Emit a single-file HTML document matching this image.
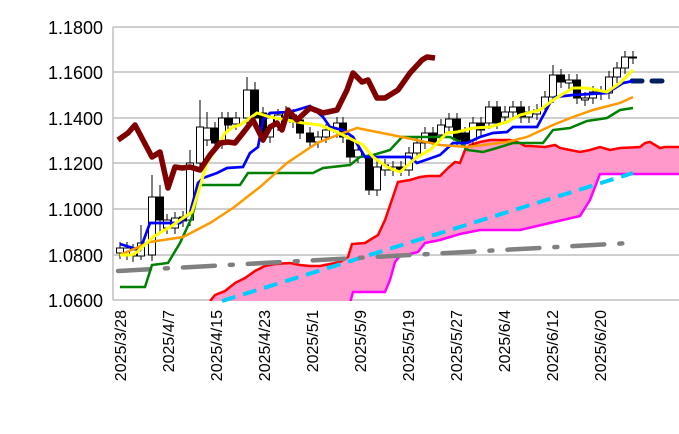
<!DOCTYPE html>
<html><head><meta charset="utf-8"><style>
html,body{margin:0;padding:0;background:#fff;width:679px;height:434px;overflow:hidden}
text{font-family:"Liberation Sans",sans-serif;fill:#000}
</style></head><body>
<svg width="679" height="434" viewBox="0 0 679 434" xmlns="http://www.w3.org/2000/svg">
<g stroke="#bfbfbf" stroke-width="1.5">
<line x1="113" y1="27" x2="679" y2="27"/><line x1="113" y1="72" x2="679" y2="72"/>
<line x1="113" y1="118" x2="679" y2="118"/><line x1="113" y1="163" x2="679" y2="163"/>
<line x1="113" y1="209" x2="679" y2="209"/><line x1="113" y1="255" x2="679" y2="255"/>
<line x1="113" y1="300" x2="679" y2="300"/><line x1="113" y1="27" x2="113" y2="300"/>
</g>
<g font-size="18" text-anchor="end">
<text x="103" y="34">1.1800</text><text x="103" y="79">1.1600</text><text x="103" y="125">1.1400</text>
<text x="103" y="170">1.1200</text><text x="103" y="216">1.1000</text><text x="103" y="262">1.0800</text>
<text x="103" y="307">1.0600</text>
</g>
<g font-size="16" text-anchor="end">
<text transform="translate(126,310) rotate(-90)">2025/3/28</text>
<text transform="translate(174,310) rotate(-90)">2025/4/7</text>
<text transform="translate(222,310) rotate(-90)">2025/4/15</text>
<text transform="translate(270,310) rotate(-90)">2025/4/23</text>
<text transform="translate(318,310) rotate(-90)">2025/5/1</text>
<text transform="translate(366,310) rotate(-90)">2025/5/9</text>
<text transform="translate(414,310) rotate(-90)">2025/5/19</text>
<text transform="translate(462,310) rotate(-90)">2025/5/27</text>
<text transform="translate(510,310) rotate(-90)">2025/6/4</text>
<text transform="translate(558,310) rotate(-90)">2025/6/12</text>
<text transform="translate(606,310) rotate(-90)">2025/6/20</text>
</g>
<svg x="113" y="0" width="566" height="301" viewBox="113 0 566 301" overflow="hidden">
<polygon fill="#ff99cc" points="210,301 215,295 225,291 235,283 245,278 255,271 265,266 275,264 290,263 300,265 310,266 320,266 330,264 340,262 348,257 352,244 365,243 378,235 385,220 398,182 410,180 420,177 428,176 440,176 448,168 455,162 460,163 465,150 470,145 480,142 490,140 500,140 510,140 520,143 525,146 530,146 545,147 555,145 560,148 570,150 580,152 590,150 600,147 610,150 620,148 640,147 645,143 650,142 660,148 665,147 679,147 679,174 600,174 590,200 580,216 520,230 480,230 460,234 440,240 425,243 418,252 410,254 400,256 395,262 390,280 385,292 353,292 350,301"/>
<polyline fill="none" stroke="#ff0000" stroke-width="2.5" points="210,301 215,295 225,291 235,283 245,278 255,271 265,266 275,264 290,263 300,265 310,266 320,266 330,264 340,262 348,257 352,244 365,243 378,235 385,220 398,182 410,180 420,177 428,176 440,176 448,168 455,162 460,163 465,150 470,145 480,142 490,140 500,140 510,140 520,143 525,146 530,146 545,147 555,145 560,148 570,150 580,152 590,150 600,147 610,150 620,148 640,147 645,143 650,142 660,148 665,147 679,147"/>
<polyline fill="none" stroke="#ff00ff" stroke-width="2.5" points="350,303 353,292 385,292 390,280 395,262 400,256 410,254 418,252 425,243 440,240 460,234 480,230 520,230 580,216 590,200 600,174 679,174"/>
</svg>
<line x1="222" y1="301" x2="633" y2="173" stroke="#00ccff" stroke-width="4" stroke-dasharray="14,8"/>
<line x1="118" y1="271" x2="630" y2="243" stroke="#808080" stroke-width="4.5" stroke-dasharray="32,15,3,15" stroke-linecap="round"/>
<line x1="632" y1="81" x2="667" y2="81" stroke="#002060" stroke-width="5" stroke-dasharray="10,10" stroke-linecap="round"/>
<g stroke="#000" stroke-width="1">
<path d="M120 242V259M127 242V260M133 244V262M141 225V260M152 175V261M160 185V233M167 214V234M175 212V234M183 211V227M190 150V226M200 100V169M207 112V146M215 122V149M222 112V149M228 112V131M236 112V130M247 77V124M255 82V124M263 107V143M270 112V143M278 109V131M286 106V124M293 109V128M300 114V139M310 127V148M318 131V148M326 124V143M337 117V138M343 117V143M350 134V163M358 144V163M369 150V195M377 161V196M385 159V176M393 161V176M401 161V176M409 147V176M417 137V159M425 127V149M433 127V149M441 119V141M449 113V133M457 113V146M465 127V148M473 117V146M481 117V136M489 101V129M497 101V129M505 106V123M513 101V118M521 101V123M529 106V123M537 104V120M545 91V113M553 65V103M561 69V88M569 74V89M577 74V104M585 92V106M593 86V104M601 86V100M609 71V99M617 62V83M625 51V74M633 51V64"/>
<g fill="#fff">
<rect x="116.5" y="248" width="7" height="5"/><rect x="123.5" y="248" width="7" height="6"/><rect x="129.5" y="250" width="7" height="6"/><rect x="137.5" y="243" width="7" height="13"/><rect x="148.5" y="197" width="7" height="58"/><rect x="163.5" y="220" width="7" height="8"/><rect x="171.5" y="218" width="7" height="10"/><rect x="186.5" y="163" width="7" height="57"/><rect x="196.5" y="127" width="7" height="36"/><rect x="203.5" y="128" width="7" height="12"/><rect x="218.5" y="118" width="7" height="25"/><rect x="232.5" y="118" width="7" height="6"/><rect x="243.5" y="90" width="7" height="28"/><rect x="266.5" y="118" width="7" height="19"/><rect x="274.5" y="115" width="7" height="10"/><rect x="282.5" y="112" width="7" height="6"/><rect x="314.5" y="137" width="7" height="5"/><rect x="322.5" y="130" width="7" height="7"/><rect x="333.5" y="123" width="7" height="9"/><rect x="354.5" y="150" width="7" height="7"/><rect x="373.5" y="167" width="7" height="23"/><rect x="381.5" y="165" width="7" height="5"/><rect x="389.5" y="167" width="7" height="3"/><rect x="405.5" y="153" width="7" height="17"/><rect x="413.5" y="143" width="7" height="10"/><rect x="421.5" y="133" width="7" height="10"/><rect x="437.5" y="125" width="7" height="10"/><rect x="445.5" y="119" width="7" height="8"/><rect x="469.5" y="123" width="7" height="17"/><rect x="485.5" y="107" width="7" height="16"/><rect x="501.5" y="112" width="7" height="5"/><rect x="509.5" y="107" width="7" height="5"/><rect x="525.5" y="112" width="7" height="5"/><rect x="533.5" y="110" width="7" height="4"/><rect x="541.5" y="97" width="7" height="10"/><rect x="549.5" y="75" width="7" height="22"/><rect x="565.5" y="80" width="7" height="3"/><rect x="581.5" y="98" width="7" height="2"/><rect x="589.5" y="92" width="7" height="6"/><rect x="597.5" y="92" width="7" height="2"/><rect x="605.5" y="77" width="7" height="16"/><rect x="613.5" y="68" width="7" height="9"/><rect x="621.5" y="57" width="7" height="11"/><rect x="629.5" y="57" width="7" height="1"/>
</g>
<g fill="#000">
<rect x="156.5" y="197" width="7" height="23"/><rect x="179.5" y="217" width="7" height="4"/><rect x="211.5" y="128" width="7" height="15"/><rect x="224.5" y="118" width="7" height="7"/><rect x="251.5" y="90" width="7" height="28"/><rect x="259.5" y="113" width="7" height="24"/><rect x="289.5" y="115" width="7" height="7"/><rect x="296.5" y="120" width="7" height="13"/><rect x="306.5" y="133" width="7" height="9"/><rect x="339.5" y="123" width="7" height="14"/><rect x="346.5" y="140" width="7" height="17"/><rect x="365.5" y="157" width="7" height="33"/><rect x="397.5" y="167" width="7" height="3"/><rect x="429.5" y="133" width="7" height="10"/><rect x="453.5" y="119" width="7" height="21"/><rect x="461.5" y="133" width="7" height="9"/><rect x="477.5" y="123" width="7" height="7"/><rect x="493.5" y="107" width="7" height="16"/><rect x="517.5" y="107" width="7" height="10"/><rect x="557.5" y="75" width="7" height="7"/><rect x="573.5" y="80" width="7" height="18"/>
</g>
</g>
<polyline fill="none" stroke="#008000" stroke-width="2.5" points="120,287 145,287 152,265 168,263 180,243 192,217 200,185 240,185 248,173 313,173 323,168 350,165 360,157 373,155 390,150 402,137 450,137 460,142 467,150 483,152 497,148 513,143 543,143 553,130 570,128 587,121 607,118 620,110 633,108"/>
<polyline fill="none" stroke="#0000ff" stroke-width="2.7" points="120,244 140,250 150,223 180,223 190,213 198,183 203,178 217,173 227,168 243,167 250,153 258,147 263,120 270,113 290,112 310,106 323,117 330,127 343,130 353,137 365,157 410,157 417,163 440,155 453,143 467,143 480,137 493,133 507,132 513,127 537,127 550,103 555,97 573,95 607,93 623,83 633,81"/>
<polyline fill="none" stroke="#ff9900" stroke-width="2.5" points="120,255 150,242 183,237 210,223 233,208 260,187 287,163 317,143 343,133 357,128 377,132 407,138 440,145 467,147 507,142 527,137 553,125 573,117 593,110 620,103 633,97"/>
<polyline fill="none" stroke="#ffff00" stroke-width="3" points="120,255 132,255 137,252 153,237 170,227 192,212 198,193 207,163 217,147 225,133 233,127 240,125 257,113 270,117 287,120 303,123 320,125 337,132 353,140 363,145 373,157 387,167 400,172 417,157 430,150 447,133 457,132 473,128 490,127 507,122 520,115 540,110 553,100 573,88 587,88 607,92 620,83 633,70"/>
<polyline fill="none" stroke="#800000" stroke-width="5.5" stroke-linejoin="round" points="118,140 128,133 135,125 152,157 160,152 168,188 175,167 182,168 190,167 200,170 210,155 220,143 228,142 235,143 243,133 253,120 263,140 270,127 277,123 282,130 288,110 297,120 310,108 323,113 337,110 347,90 353,73 362,82 368,80 377,98 385,98 398,90 410,73 422,60 427,57 435,58"/>
</svg>
</body></html>
